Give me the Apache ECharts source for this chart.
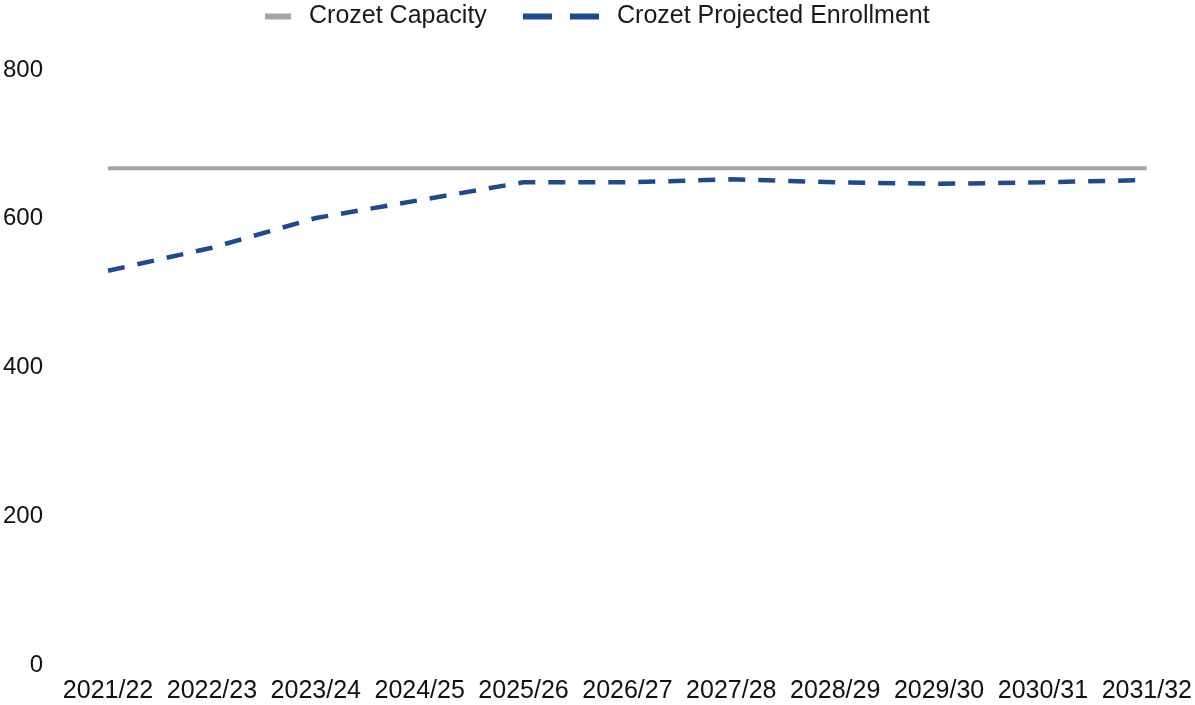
<!DOCTYPE html>
<html>
<head>
<meta charset="utf-8">
<script src="https://cdn.jsdelivr.net/npm/echarts@6/dist/echarts.min.js"></script>
<style>
  html, body { margin: 0; padding: 0; background: #fff; }
  #chart { width: 1195px; height: 705px; }
</style>
</head>
<body>
<div id="chart"></div>
<script>
const years = ["2021/22", "2022/23", "2023/24", "2024/25", "2025/26", "2026/27", "2027/28", "2028/29", "2029/30", "2030/31", "2031/32"]
const capacity = [668, 668, 668, 668, 668, 668, 668, 668, 668, 668, 668]
const enrollment = [530, 561, 601, 625, 649, 649, 653, 649, 647, 649, 652]
const yTicks = [0, 200, 400, 600, 800]

const font = "'Liberation Sans', Arial, sans-serif"
const chart = echarts.init(document.getElementById("chart"))

const legendText = { fontFamily: font, fontSize: 25, color: "#1a1a1a", padding: [0, 0, 0, 13] }

chart.setOption({
  animation: false,
  backgroundColor: "#fff",
  legend: [
    {
      top: 4,
      left: 265,
      padding: 0,
      itemWidth: 26,
      itemHeight: 6,
      textStyle: legendText,
      data: [{ name: "Crozet Capacity", icon: "rect" }]
    },
    {
      top: 4,
      left: 523,
      padding: 0,
      itemWidth: 76,
      itemHeight: 6,
      textStyle: legendText,
      data: [{ name: "Crozet Projected Enrollment", icon: "path://M0,0h29v6h-29z M47,0h29v6h-29z" }]
    }
  ],
  grid: { left: 108, right: 48, top: 70, bottom: 40 },
  xAxis: {
    type: "category",
    data: years,
    boundaryGap: false,
    axisLine: { show: false },
    axisTick: { show: false },
    axisLabel: { fontFamily: font, fontSize: 25, color: "#111", margin: 14, interval: 0 }
  },
  yAxis: {
    type: "value",
    min: yTicks[0],
    max: yTicks[yTicks.length - 1],
    interval: 200,
    axisLine: { show: false },
    axisTick: { show: false },
    splitLine: { show: false },
    axisLabel: { fontFamily: font, fontSize: 24, color: "#111", margin: 65 }
  },
  series: [
    {
      name: "Crozet Capacity",
      type: "line",
      data: capacity,
      symbol: "none",
      color: "#a5a5a5",
      lineStyle: { color: "#a5a5a5", width: 4 }
    },
    {
      name: "Crozet Projected Enrollment",
      type: "line",
      data: enrollment,
      symbol: "none",
      color: "#1f4a8c",
      lineStyle: { color: "#1f4a8c", width: 4.5, type: [17, 13] }
    }
  ]
})
</script>
</body>
</html>
